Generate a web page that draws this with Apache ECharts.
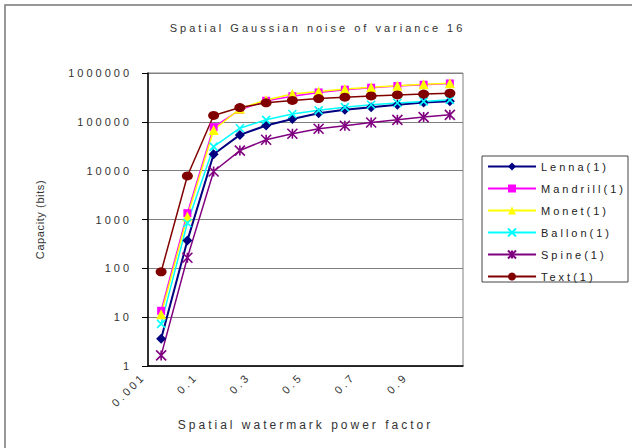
<!DOCTYPE html>
<html><head><meta charset="utf-8">
<script src="https://cdn.jsdelivr.net/npm/echarts@6/dist/echarts.min.js"></script>
<style>
html,body{margin:0;padding:0;background:#fff;}
#main{width:635px;height:448px;}
#main text{letter-spacing:3px !important;}
#main text.tight{letter-spacing:0.6px !important;}
</style></head><body><div id="main"></div>
<script>
const categories = ['0.001','0.05','0.1','0.2','0.3','0.4','0.5','0.6','0.7','0.8','0.9','1.0'];
const yTickLabels = ['1','10','100','1000','10000','100000','1000000'];
const seriesNames = ['Lenna(1)','Mandrill(1)','Monet(1)','Ballon(1)','Spine(1)','Text(1)'];
const lenna    = [3.6, 370, 21700, 54000, 84000, 114000, 150000, 176000, 200000, 224000, 250000, 265000];
const mandrill = [13.5, 1350, 78000, 176000, 270000, 335000, 400000, 455000, 500000, 540000, 575000, 610000];
const monet    = [11.5, 1150, 68000, 185000, 280000, 370000, 420000, 470000, 510000, 550000, 585000, 620000];
const ballon   = [7.3, 850, 31000, 74000, 110000, 145000, 172000, 200000, 224000, 243000, 262000, 282000];
const spine    = [1.65, 165, 9600, 25800, 43000, 57000, 72000, 83000, 97000, 110000, 125000, 139000];
const textImg  = [85, 7800, 135000, 196000, 245000, 274000, 300000, 320000, 340000, 356000, 370000, 385000];
const titleText = 'Spatial Gaussian noise of variance 16';
const xName = 'Spatial watermark power factor';
const yName = 'Capacity (bits)';

const seriesData = [lenna, mandrill, monet, ballon, spine, textImg];
const colors = ['#000080','#FF00FF','#FFFF00','#00FFFF','#800080','#800000'];
const symbols = ['diamond','rect','triangle','path://M0,0L10,10M10,0L0,10','path://M0,0L10,10M10,0L0,10M5,0L5,10','circle'];
const symbolSizes = [10, 8, 10, 8, 10, [11, 9]];
const lineWidths = [2, 1.5, 1.5, 1.5, 1.5, 1.5];

const FONT = 'Arial, "Liberation Sans", sans-serif';
const chart = echarts.init(document.getElementById('main'), null, {renderer: 'svg'});

const series = seriesNames.map((n, i) => ({
  name: n, type: 'line', data: seriesData[i],
  symbol: symbols[i], symbolSize: symbolSizes[i],
  lineStyle: {color: colors[i], width: lineWidths[i]},
  itemStyle: {color: colors[i], borderColor: colors[i], borderWidth: (i === 3 || i === 4) ? 1.6 : 0},
  emphasis: {disabled: true}
}));

chart.setOption({
  animation: false,
  backgroundColor: '#fff',
  textStyle: {fontFamily: FONT},
  title: {text: titleText, left: 'center', top: 22, padding: 0,
    textStyle: {fontSize: 11, fontWeight: 'normal', color: '#333', fontFamily: FONT}},
  grid: {left: 148, right: 172, top: 73, bottom: 82, show: true, borderColor: '#808080', borderWidth: 1},
  legend: {orient: 'vertical', left: 482, top: 156, padding: 5, itemWidth: 48, itemHeight: 10, itemGap: 11,
    data: seriesNames, textStyle: {fontSize: 11, color: '#222', fontFamily: FONT}},
  xAxis: {type: 'category', data: categories, boundaryGap: true,
    axisLine: {lineStyle: {color: '#000', width: 1.5}},
    axisTick: {interval: 0, length: 5, lineStyle: {color: '#000'}},
    axisLabel: {interval: 1, rotate: 45, fontSize: 11, color: '#333', margin: -9, padding: [0, 25, 0, 0], fontFamily: FONT},
    splitLine: {show: false},
    name: xName, nameLocation: 'middle', nameGap: 53,
    nameTextStyle: {fontSize: 12, color: '#333', fontFamily: FONT}},
  yAxis: {type: 'log', logBase: 10, min: 1, max: 1000000, splitNumber: 6,
    axisLine: {show: true, lineStyle: {color: '#000', width: 1.5}},
    axisTick: {show: true, length: 6, lineStyle: {color: '#000'}},
    axisLabel: {margin: 16, fontSize: 11, color: '#333', fontFamily: FONT,
      formatter: v => yTickLabels[Math.round(Math.log10(v))]},
    splitLine: {show: true, lineStyle: {color: '#808080', width: 1}},
    name: yName, nameLocation: 'middle', nameGap: 103,
    nameTextStyle: {fontSize: 11, color: '#333', fontFamily: FONT}},
  graphic: [
    {type: 'polyline', shape: {points: [[5, 448], [5, 5], [632, 5]]}, style: {stroke: '#777', lineWidth: 1.5, fill: null}, silent: true},
    {type: 'rect', shape: {x: 482, y: 156, width: 146, height: 126}, style: {fill: null, stroke: '#444', lineWidth: 1}, silent: true}
  ],
  series: series
});

function tighten() {
  document.querySelectorAll('#main text').forEach(t => {
    if (t.textContent === yName) t.classList.add('tight');
  });
}
tighten();
chart.on('finished', tighten);
</script></body></html>
